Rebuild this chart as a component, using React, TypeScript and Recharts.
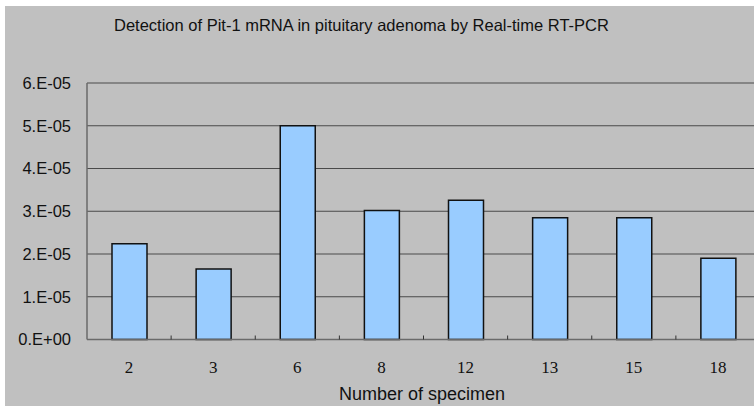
import React from 'react'
import { BarChart, Bar, XAxis, YAxis, CartesianGrid } from 'recharts'

const specimens = ['2', '3', '6', '8', '12', '13', '15', '18']
const pit1 = [2.24e-5, 1.65e-5, 5.0e-5, 3.02e-5, 3.26e-5, 2.85e-5, 2.85e-5, 1.9e-5]
const yTicks = [0, 1e-5, 2e-5, 3e-5, 4e-5, 5e-5, 6e-5]

const data = specimens.map((s, i) => ({ specimen: s, value: pit1[i] }))

const fmtSci = (v: number) => (v === 0 ? '0.E+00' : `${Math.round(v * 1e5)}.E-05`)

const sans = '"Liberation Sans", Arial, sans-serif'
const serif = '"Liberation Serif", "Times New Roman", serif'
const LABEL_GAP = 21

// category label plus the small tick mark on the boundary to its right
function SpecimenTick(props: any) {
  const { x, y, payload } = props
  const half = payload?.offset ?? 42
  const axisY = y - LABEL_GAP
  const last = payload?.index === specimens.length - 1
  return (
    <g>
      {!last && <line x1={x + half} x2={x + half} y1={axisY} y2={axisY - 4} stroke="#333" strokeWidth={1} />}
      <text x={x} y={y} dy="0.71em" textAnchor="middle" fill="#111" fontSize={17} fontFamily={serif}>
        {payload.value}
      </text>
    </g>
  )
}

export default function App() {
  return (
    <div style={{ position: 'absolute', left: 0, top: 0, width: 754, height: 406, overflow: 'hidden', background: '#fff' }}>
      <div style={{ position: 'absolute', left: 5, top: 6, width: 760, height: 400, background: '#C0C0C0' }}>
        <div
          style={{
            position: 'absolute', left: 109, top: 10,
            fontFamily: sans, fontSize: 16.5, color: '#111', whiteSpace: 'nowrap',
          }}
        >
          Detection of Pit-1 mRNA in pituitary adenoma by Real-time RT-PCR
        </div>
        <div
          style={{
            position: 'absolute', left: 334, top: 378,
            fontFamily: sans, fontSize: 18, color: '#111', whiteSpace: 'nowrap',
          }}
        >
          Number of specimen
        </div>
        <BarChart
          width={755}
          height={400}
          data={data}
          margin={{ top: 77, right: 0, left: 0, bottom: 0 }}
          barSize={35}
        >
          <CartesianGrid horizontal vertical={false} stroke="#4a4a4a" strokeWidth={1.2} />
          <XAxis
            dataKey="specimen"
            height={66.5}
            axisLine={{ stroke: '#6a6a6a', strokeWidth: 1.5 }}
            tickLine={false}
            tickSize={0}
            tickMargin={LABEL_GAP}
            tick={<SpecimenTick />}
          />
          <YAxis
            domain={[0, 6e-5]}
            ticks={yTicks}
            tickFormatter={fmtSci}
            width={82}
            axisLine={{ stroke: '#6a6a6a', strokeWidth: 1.5 }}
            tickLine={false}
            tickSize={8}
            tickMargin={8}
            tick={{ fill: '#111', fontSize: 16.5, fontFamily: sans }}
          />
          <Bar dataKey="value" fill="#99CCFF" stroke="#111" strokeWidth={1.5} isAnimationActive={false} />
        </BarChart>
      </div>
    </div>
  )
}
